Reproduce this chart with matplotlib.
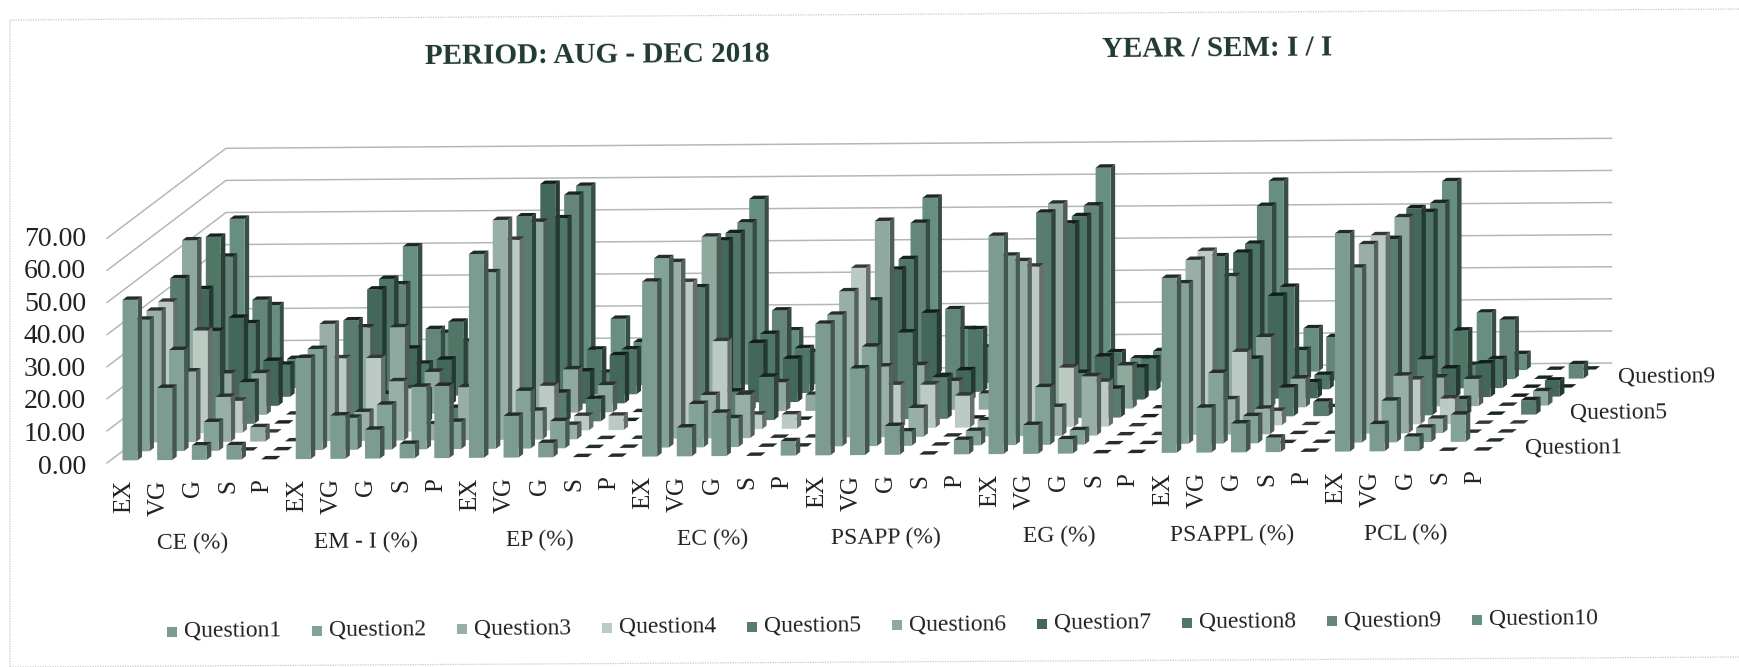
import matplotlib
matplotlib.use("Agg")
import matplotlib.pyplot as plt
import numpy as np
from matplotlib.colors import to_rgb

# values, 5 grades for each of the 8 subjects
q1 = [50, 22.5, 4.5, 4.5, 0, 31.5, 13.5, 9, 4.5, 22.5, 63.5, 13, 4.5, 0, 0, 54.5, 9, 13.5, 0, 4.5,
      41, 27, 9, 0, 4.5, 68, 9, 4.5, 0, 0, 54.5, 14, 9, 4.5, 0, 68, 8.5, 4.5, 0, 0]
q2 = [41, 31.5, 9, 0, 0, 31.5, 10, 14, 19.5, 8.5, 55, 18, 8.5, 0, 0, 59, 13.5, 9, 0, 0,
      41, 31, 4.5, 0, 4.5, 59, 18, 4.5, 0, 0, 50, 22, 8.5, 0, 0, 54.5, 13, 4.5, 8.5, 0]
q3 = [41, 22, 14, 4.5, 0, 36.5, 9, 18.5, 5, 16.5, 68.5, 9, 4.5, 0, 0, 55, 13.5, 13.5, 0, 0,
      45.5, 22, 9, 0, 5, 54.5, 9, 18.5, 0, 0, 54.5, 11, 8, 0, 0, 59, 18, 4.5, 0, 0]
q4 = [41, 32, 10, 0, 0, 23, 23, 13.5, 0, 0, 59.5, 14, 4.5, 4.5, 0, 46, 27.5, 4.5, 4.5, 0,
      50, 13.5, 13.5, 10, 0, 50, 18.5, 14, 0, 0, 54.5, 23, 4.5, 0, 0, 59, 14, 8, 0, 0]
q5 = [45.5, 29, 13, 0, 0, 32, 9, 10, 4.5, 0, 64, 9, 7, 0, 0, 41.5, 9, 13.5, 0, 0,
      37, 27, 13, 0, 0, 64, 14, 9, 0, 0, 50, 18, 9, 4.5, 0, 55, 17.5, 5, 0, 4.5]
q6 = [54.5, 13, 13, 0, 0, 27, 27, 13, 0, 0, 59.5, 13.5, 8.5, 0, 0, 54.5, 5.5, 9, 5, 0,
      59, 14, 9, 5, 0, 64, 10, 13.5, 0, 0, 41, 22, 9, 0, 0, 59, 9, 8.5, 0, 4.5]
q7 = [36.5, 27.5, 14, 0, 0, 36, 17.5, 14, 0, 0, 68.5, 10, 15, 0, 0, 50.5, 18.5, 13.5, 0, 0,
      41, 27.5, 9.5, 0, 0, 55, 13.5, 10, 0, 0, 45.5, 32, 5, 0, 0, 59, 9, 10.5, 0, 5]
q8 = [50, 23, 10, 0, 0, 36.5, 10, 23, 0, 0, 55, 14, 14, 0, 0, 50, 18.5, 14, 0, 0,
      41.5, 5, 19.5, 0, 0, 54.5, 12, 10, 0, 0, 45.5, 32, 4.5, 0, 0, 55, 18, 9, 0, 0]
q9 = [41, 27.5, 9, 0, 0, 32, 18, 14, 0, 0, 59.5, 4, 13.5, 0, 0, 50.5, 23, 10, 0, 0,
      50, 23, 11, 0, 0, 55, 5, 9.5, 0, 0, 54.5, 9.5, 13.5, 0, 0, 55, 4.5, 18.5, 0, 4.5]
q10 = [50, 23, 6.5, 0, 0, 41, 14, 9, 0, 0, 59.5, 18, 9, 0, 0, 55, 14, 10, 0, 0,
       55, 14, 9, 0, 0, 64, 4.5, 9, 0, 0, 59.5, 13.5, 9, 0, 0, 59, 18, 5, 0, 0]

series = [q1, q2, q3, q4, q5, q6, q7, q8, q9, q10]
series_names = ["Question1", "Question2", "Question3", "Question4", "Question5",
                "Question6", "Question7", "Question8", "Question9", "Question10"]
colors = ["#7d9c91", "#83a399", "#98afa6", "#bccac4", "#587c70",
          "#8fa99f", "#44675b", "#4f7666", "#64867a", "#668f82"]
grades = ["EX", "VG", "G", "S", "P"]
subjects = ["CE (%)", "EM - I (%)", "EP (%)", "EC (%)", "PSAPP (%)", "EG (%)", "PSAPPL (%)", "PCL (%)"]
yticks = [0, 10, 20, 30, 40, 50, 60, 70]

plt.rcParams['font.family'] = ['Liberation Serif', 'DejaVu Serif']

# figure is one big axes, x in categories and y in percent
cat_px = 34.64
val_px = 3.21
x0_px = 107
y0_px = 463
fig = plt.figure(figsize=(17.39, 6.67), dpi=100)
ax = fig.add_axes([0, 0, 1, 1])
ax.set_xlim(-x0_px / cat_px, (1739 - x0_px) / cat_px)
ax.set_ylim((y0_px - 667) / val_px, y0_px / val_px)
ax.axis('off')

# oblique projection like the excel 3d bars, plus the tilt of the scan
depth_x = 11.9 / cat_px
depth_y = 9.0 / val_px
tilt = 0.0072 * cat_px / val_px
n_cat = len(q1)


def proj(x, d, v):
    return x + d * depth_x, v + d * depth_y + tilt * x


def shade(c, f):
    return tuple(np.array(to_rgb(c)) * f)


def px(xp, yp):
    # pixel position in the scan to data position
    return (xp - x0_px) / cat_px, (y0_px - yp) / val_px


# walls and gridlines
for v in yticks:
    a = proj(0, 0, v)
    b = proj(0, 10, v)
    c = proj(n_cat, 10, v)
    ax.plot([a[0], b[0], c[0]], [a[1], b[1], c[1]], color="#b4b8b5", lw=1.1, zorder=1)

# bars from back to front
bar_w = 0.433
bar_d = 0.38
z = 2
for r in range(9, -1, -1):
    col = colors[r]
    for i in range(n_cat):
        v = series[r][i]
        left = i + 0.352
        right = left + bar_w
        d1 = r + 0.28
        d2 = d1 + bar_d
        front = [proj(left, d1, 0), proj(right, d1, 0), proj(right, d1, v), proj(left, d1, v)]
        side = [proj(right, d1, 0), proj(right, d2, 0), proj(right, d2, v), proj(right, d1, v)]
        top = [proj(left, d1, v), proj(right, d1, v), proj(right, d2, v), proj(left, d2, v)]
        if v > 0:
            ax.fill(*zip(*side), color=shade(col, 0.55), lw=0, zorder=z)
            ax.fill(*zip(*front), color=col, lw=0, zorder=z)
        ax.fill(*zip(*top), color=shade(col, 0.28), lw=0, zorder=z)
        z += 1

# value labels
for v in yticks:
    xt, yt = px(86, 467 - 32.5 * v / 10)
    ax.text(xt, yt, "%.2f" % v, ha='right', va='center', fontsize=20, color="#222222")

# grade and subject labels
for i in range(n_cat):
    xt, yt = proj(i + 0.49, 0, -5.3)
    ax.text(xt, yt, grades[i % 5], rotation=90, ha='center', va='top', fontsize=18, color="#222222")
for g, name in enumerate(subjects):
    xt, yt = px(193 + 173.2 * g, 543 - 1.3 * g)
    ax.text(xt, yt, name, ha='center', va='center', fontsize=17, color="#222222", rotation=0.4)

# depth axis labels
for name, xp, yp in [("Question1", 1525, 448), ("Question5", 1570, 413), ("Question9", 1618, 377)]:
    xt, yt = px(xp, yp)
    ax.text(xt, yt, name, ha='left', va='center', fontsize=17, color="#222222", rotation=0.4)

# titles
xt, yt = px(597, 55)
ax.text(xt, yt, "PERIOD: AUG - DEC 2018", ha='center', va='center', fontsize=21, fontweight='bold',
        color="#1f3a33", rotation=0.4)
xt, yt = px(1217, 49)
ax.text(xt, yt, "YEAR / SEM: I / I", ha='center', va='center', fontsize=21, fontweight='bold',
        color="#1f3a33", rotation=0.4)

# legend by hand because the scan runs uphill
for k, name in enumerate(series_names):
    xm, ym = px(172 + 145 * k, 632 - 1.35 * k)
    ax.scatter([xm], [ym], marker='s', s=60, color=colors[k], linewidths=0, zorder=1000)
    xt, yt = px(184 + 145 * k, 631 - 1.35 * k)
    ax.text(xt, yt, name, ha='left', va='center', fontsize=17, color="#222222", rotation=0.4)

# faint frame of the original chart box
frame_x, frame_y = zip(*[px(10, 667), px(10, 20), px(1739, 9)])
ax.plot(frame_x, frame_y, color="#c8c8c8", lw=0.9, ls=(0, (1, 1)), zorder=0)
frame_x, frame_y = zip(*[px(10, 667), px(1739, 657)])
ax.plot(frame_x, frame_y, color="#c8c8c8", lw=0.9, ls=(0, (1, 1)), zorder=0)

fig.savefig("out.png", dpi=100)
